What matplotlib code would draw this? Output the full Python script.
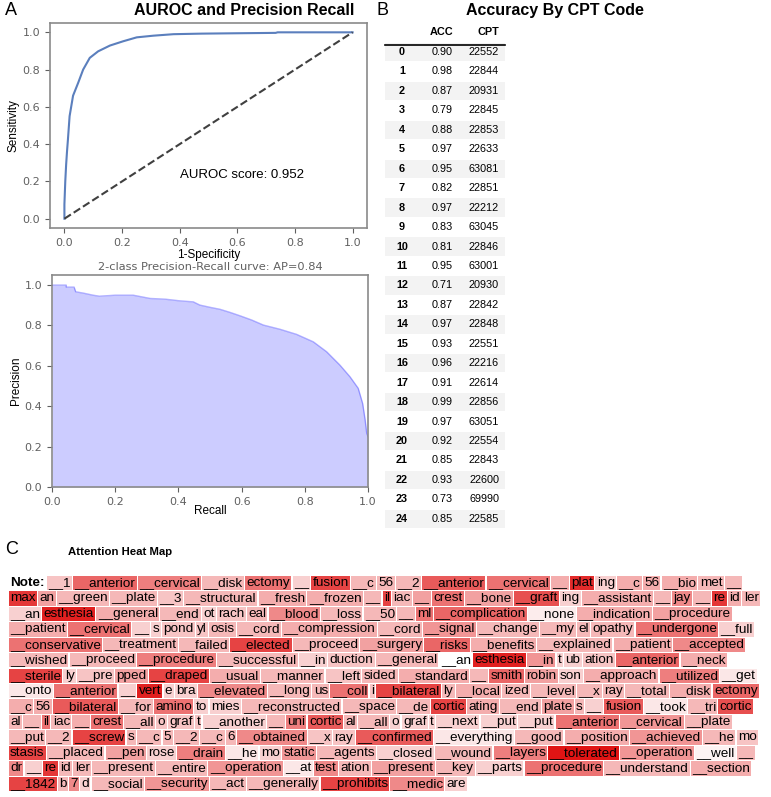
import matplotlib
matplotlib.use("Agg")
import matplotlib.pyplot as plt
from matplotlib.patches import Rectangle

W, H = 771, 797

# ---- panel A: ROC curve
fpr = [0.0, 0.0, 0.003, 0.006, 0.009, 0.012, 0.018, 0.030, 0.048, 0.065, 0.088,
       0.117, 0.158, 0.204, 0.251, 0.309, 0.379, 0.477, 0.6, 0.733, 0.74, 1.0]
tpr = [0.0, 0.077, 0.2, 0.29, 0.36, 0.42, 0.55, 0.66, 0.73, 0.80, 0.863,
       0.898, 0.929, 0.952, 0.973, 0.982, 0.99, 0.993, 0.995, 0.997, 1.0, 1.0]
auroc = 0.952

# ---- panel A: precision / recall
recall = [0.0, 0.045, 0.045, 0.07, 0.075, 0.1, 0.13, 0.15, 0.2, 0.257, 0.31, 0.36,
          0.405, 0.447, 0.468, 0.50, 0.532, 0.563, 0.595, 0.632, 0.669, 0.722,
          0.774, 0.827, 0.869, 0.911, 0.943, 0.969, 0.983, 0.991, 0.996, 1.0]
precision = [1.0, 1.0, 0.99, 0.99, 0.967, 0.96, 0.95, 0.945, 0.95, 0.95, 0.934, 0.93,
             0.922, 0.917, 0.901, 0.89, 0.88, 0.865, 0.848, 0.827, 0.802, 0.781,
             0.756, 0.719, 0.670, 0.604, 0.546, 0.489, 0.414, 0.332, 0.266, 0.25]
ap = 0.84

# ---- panel B: accuracy table
cpt_idx = list(range(25))
cpt_acc = [0.90, 0.98, 0.87, 0.79, 0.88, 0.97, 0.95, 0.82, 0.97, 0.83, 0.81, 0.95,
           0.71, 0.87, 0.97, 0.93, 0.96, 0.91, 0.99, 0.97, 0.92, 0.85, 0.93, 0.73, 0.85]
cpt_code = ['22552', '22844', '20931', '22845', '22853', '22633', '63081', '22851',
            '22212', '63045', '22846', '63001', '20930', '22842', '22848', '22551',
            '22216', '22614', '22856', '63051', '22554', '22843', '22600', '69990',
            '22585']

# ---- panel C: attention heat map (tokens per line, attention weight per token)
heat_text = [
    "__1 __anterior __cervical __disk ectomy __ fusion __c 56 __2 __anterior __cervical __ plat ing __c 56 __bio met __",
    "max an __green __plate __3 __structural __fresh __frozen __ il iac __ crest __bone __graft ing __assistant __ jay __ re id ler",
    "__an esthesia __general __end ot rach eal __blood __loss __50 __ ml __complication __none __indication __procedure",
    "__patient __cervical __ s pond yl osis __cord __compression __cord __signal __change __my el opathy __undergone __full",
    "__conservative __treatment __failed __elected __proceed __surgery __risks __benefits __explained __patient __accepted",
    "__wished __proceed __procedure __successful __in duction __general __an esthesia __in t ub ation __anterior __neck",
    "__sterile ly __pre pped __draped __usual __manner __left sided __standard __ smith robin son __approach __utilized __get",
    "__onto __anterior __ vert e bra __elevated __long us __coll i __bilateral ly __local ized __level __x ray __total __disk ectomy",
    "__c 56 __bilateral __for amino to mies __reconstructed __space __de cortic ating __end plate s __ fusion __took __tri cortic",
    "al __ il iac __ crest __all o graf t __another __ uni cortic al __all o graf t __next __put __put __anterior __cervical __plate",
    "__put __2 __screw s __c 5 __2 __c 6 __obtained __x ray __confirmed __everything __good __position __achieved __he mo",
    "stasis __placed __pen rose __drain __he mo static __agents __closed __wound __layers __tolerated __operation __well __",
    "dr __ re id ler __present __entire __operation __at test ation __present __key __parts __procedure __understand __section",
    "__1842 b 7 d __social __security __act __generally __prohibits __medic are",
]
heat_w = [
    [0.25, 0.65, 0.55, 0.3, 0.6, 0.2, 0.8, 0.3, 0.3, 0.3, 0.7, 0.6, 0.35, 0.9, 0.2, 0.35, 0.35, 0.35, 0.3, 0.3],
    [0.85, 0.4, 0.3, 0.3, 0.25, 0.3, 0.35, 0.35, 0.3, 0.8, 0.3, 0.4, 0.6, 0.4, 0.75, 0.2, 0.35, 0.3, 0.5, 0.3, 0.85, 0.35, 0.3],
    [0.2, 0.95, 0.35, 0.3, 0.2, 0.25, 0.3, 0.5, 0.3, 0.3, 0.3, 0.6, 0.65, 0.08, 0.35, 0.4],
    [0.35, 0.6, 0.2, 0.2, 0.25, 0.25, 0.3, 0.3, 0.35, 0.3, 0.45, 0.3, 0.3, 0.3, 0.3, 0.6, 0.2],
    [0.6, 0.3, 0.3, 0.8, 0.3, 0.4, 0.65, 0.35, 0.3, 0.35, 0.5],
    [0.3, 0.3, 0.55, 0.3, 0.2, 0.25, 0.3, 0.0, 0.95, 0.45, 0.2, 0.2, 0.25, 0.65, 0.35],
    [0.8, 0.2, 0.25, 0.4, 0.8, 0.35, 0.3, 0.25, 0.3, 0.35, 0.3, 0.65, 0.4, 0.2, 0.35, 0.55, 0.1],
    [0.1, 0.6, 0.2, 0.95, 0.2, 0.2, 0.5, 0.3, 0.3, 0.6, 0.25, 0.8, 0.3, 0.35, 0.3, 0.3, 0.3, 0.3, 0.3, 0.35, 0.65],
    [0.35, 0.35, 0.7, 0.3, 0.6, 0.2, 0.2, 0.3, 0.3, 0.3, 0.8, 0.35, 0.3, 0.4, 0.3, 0.2, 0.7, 0.1, 0.3, 0.75],
    [0.3, 0.3, 0.6, 0.3, 0.35, 0.6, 0.3, 0.25, 0.25, 0.25, 0.2, 0.3, 0.55, 0.7, 0.3, 0.3, 0.2, 0.2, 0.2, 0.2, 0.2, 0.2, 0.6, 0.45, 0.3],
    [0.3, 0.3, 0.8, 0.3, 0.3, 0.3, 0.3, 0.3, 0.3, 0.5, 0.25, 0.25, 0.7, 0.1, 0.3, 0.35, 0.45, 0.3, 0.25],
    [0.8, 0.3, 0.4, 0.2, 0.55, 0.1, 0.2, 0.45, 0.3, 0.2, 0.3, 0.55, 1.0, 0.45, 0.05, 0.3],
    [0.5, 0.2, 0.85, 0.3, 0.3, 0.3, 0.3, 0.45, 0.1, 0.5, 0.3, 0.4, 0.3, 0.2, 0.6, 0.3, 0.35],
    [0.8, 0.3, 0.5, 0.2, 0.3, 0.45, 0.3, 0.3, 0.8, 0.5, 0.2],
]

grey = '#606060'
sans = 'Liberation Sans'

fig = plt.figure(figsize=(W / 100, H / 100), dpi=100)


def px_axes(l, t, r, b):
    return fig.add_axes([l / W, 1 - b / H, (r - l) / W, (b - t) / H])


def style(ax):
    for s in ax.spines.values():
        s.set_color('#8a8a8a')
        s.set_linewidth(1.2)
    ax.tick_params(colors=grey, labelsize=8, length=3.5, width=0.8)


# ROC
ax1 = px_axes(50, 23, 367, 228)
ax1.plot(fpr, tpr, color='#5b7fbd', lw=1.5)
ax1.plot([0, 1], [0, 1], color='#404040', ls='--', lw=1.5)
ax1.set_xlim(-0.05, 1.05)
ax1.set_ylim(-0.05, 1.05)
ax1.set_xticks([0, 0.2, 0.4, 0.6, 0.8, 1.0])
ax1.text(0.4, 0.235, 'AUROC score: %.3f' % auroc, fontsize=9.5, family=sans, va='center')
ax1.set_xlabel('1-Specificity', fontsize=8.5, family=sans, labelpad=1)
ax1.set_ylabel('Sensitivity', fontsize=8.5, family=sans, labelpad=2)
style(ax1)

# Precision-recall
ax2 = px_axes(52, 275, 368, 487)
ax2.plot(recall, precision, color='b', alpha=0.3, lw=1)
ax2.fill_between(recall, precision, alpha=0.2, color='b', lw=0)
ax2.set_xlim(0, 1)
ax2.set_ylim(0, 1.05)
ax2.set_title('2-class Precision-Recall curve: AP={0:0.2f}'.format(ap), color=grey,
              fontsize=8.2, pad=3.5)
ax2.set_xlabel('Recall', fontsize=8.5, family=sans, labelpad=-1)
ax2.set_ylabel('Precision', fontsize=8.5, family=sans, labelpad=2)
style(ax2)

# overlay in pixel units for labels, table and heat map
ov = fig.add_axes([0, 0, 1, 1])
ov.set_xlim(0, W)
ov.set_ylim(H, 0)
ov.axis('off')
ov.patch.set_alpha(0)

ov.text(5, 10, 'A', fontsize=13, family=sans, va='center')
ov.text(377, 10, 'B', fontsize=13, family=sans, va='center')
ov.text(5, 549, 'C', fontsize=13, family=sans, va='center')
ov.text(244, 10, 'AUROC and Precision Recall', fontsize=11.5, family=sans,
        weight='bold', ha='center', va='center')
ov.text(555, 10, 'Accuracy By CPT Code', fontsize=11.5, family=sans,
        weight='bold', ha='center', va='center')
ov.text(68, 552, 'Attention Heat Map', fontsize=8.2, family=sans,
        weight='bold', va='center')

# table
row0, row_h = 52, 19.45
tfs = 7.8
ov.text(453, 32, 'ACC', fontsize=tfs, family=sans, weight='bold', ha='right', va='center')
ov.text(499, 32, 'CPT', fontsize=tfs, family=sans, weight='bold', ha='right', va='center')
ov.plot([385, 505], [44.5, 44.5], color='black', lw=1.2)
for i, (acc, code) in enumerate(zip(cpt_acc, cpt_code)):
    y = row0 + i * row_h
    if i % 2 == 0:
        ov.add_patch(Rectangle((385, y - 9.2), 120, 18.4, facecolor='#f3f3f3', lw=0, zorder=0))
    ov.text(402, y, str(cpt_idx[i]), fontsize=tfs, family=sans, weight='bold',
            ha='center', va='center')
    ov.text(453, y, '%.2f' % acc, fontsize=tfs, family=sans, ha='right', va='center')
    ov.text(499, y, code, fontsize=tfs, family=sans, ha='right', va='center')

# heat map, laid out token by token
fig.canvas.draw()
rend = fig.canvas.get_renderer()
hfs = 9.7
space = 0.278 * hfs * 100 / 72
x0, y0, lstep, box_h, pad = 10, 583, 15.45, 14.4, 1.3
for li, (line, ws) in enumerate(zip(heat_text, heat_w)):
    y = y0 + li * lstep
    x = x0
    if li == 0:
        t = ov.text(x, y, 'Note:', fontsize=hfs, family=sans, weight='bold', va='center')
        x += t.get_window_extent(rend).width + space
    for tok, w in zip(line.split(' '), ws):
        t = ov.text(x, y, tok, fontsize=hfs, family=sans, va='center', zorder=3)
        tw = t.get_window_extent(rend).width
        ov.add_patch(Rectangle((x - pad, y - box_h / 2), tw + 2 * pad, box_h,
                               facecolor=(0.88, 0.08, 0.08), alpha=w, lw=0, zorder=1))
        x += tw + space

fig.savefig('out.png', dpi=100)
